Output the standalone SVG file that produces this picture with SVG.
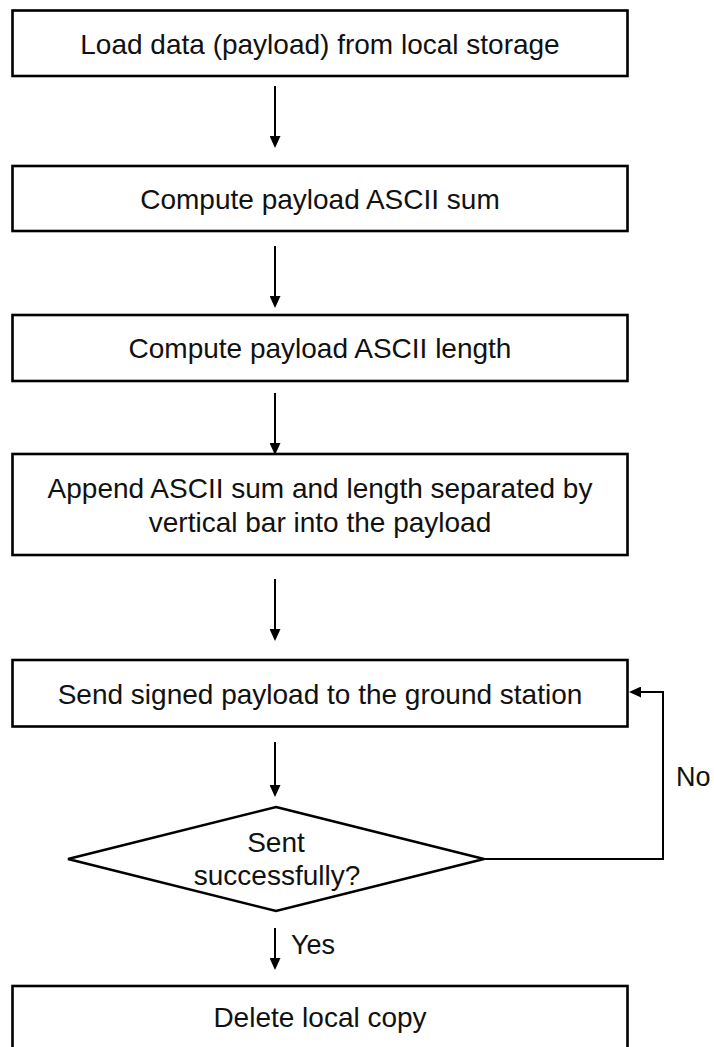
<svg xmlns="http://www.w3.org/2000/svg" width="714" height="1047" viewBox="0 0 714 1047">
  <style>
    .box { fill: #ffffff; stroke: #000000; stroke-width: 2.6; }
    .lbl { font-family: "Liberation Sans", Arial, sans-serif; font-size: 28px; fill: #111111; text-anchor: middle; }
    .side { font-family: "Liberation Sans", Arial, sans-serif; font-size: 27px; fill: #111111; }
    .wire { fill: none; stroke: #000000; stroke-width: 2; }
  </style>
  <defs>
    <marker id="arrow" markerUnits="userSpaceOnUse" markerWidth="12" markerHeight="11" refX="6" refY="5.5" orient="auto">
      <path d="M0,0 L12,5.5 L0,11 z" fill="#000000"/>
    </marker>
  </defs>
  <rect width="714" height="1047" fill="#ffffff"/>

  <g id="load">
    <rect class="box" x="12.5" y="10.5" width="615" height="65.5"/>
    <text class="lbl" x="320" y="54">Load data (payload) from local storage</text>
  </g>

  <g id="sum">
    <rect class="box" x="12.5" y="166" width="615" height="65"/>
    <text class="lbl" x="320" y="209">Compute payload ASCII sum</text>
  </g>

  <g id="length">
    <rect class="box" x="12.5" y="315" width="615" height="66"/>
    <text class="lbl" x="320" y="358">Compute payload ASCII length</text>
  </g>

  <g id="append">
    <rect class="box" x="12.5" y="454" width="615" height="101"/>
    <text class="lbl" x="320" y="497.5">Append ASCII sum and length separated by</text>
    <text class="lbl" x="320" y="531.5">vertical bar into the payload</text>
  </g>

  <g id="send">
    <rect class="box" x="12.5" y="660" width="615" height="66.5"/>
    <text class="lbl" x="320" y="703.5">Send signed payload to the ground station</text>
  </g>

  <g id="check">
    <polygon class="box" points="276,807 484,859 276,911 68,859"/>
    <text class="lbl" x="276" y="852">Sent</text>
    <text class="lbl" x="277" y="885">successfully?</text>
  </g>

  <g id="delete">
    <rect class="box" x="12.5" y="986" width="615" height="66"/>
    <text class="lbl" x="320" y="1027">Delete local copy</text>
  </g>

  <g id="connectors">
    <line class="wire" x1="275" y1="86" x2="275" y2="142" marker-end="url(#arrow)"/>
    <line class="wire" x1="275" y1="246" x2="275" y2="302" marker-end="url(#arrow)"/>
    <line class="wire" x1="275" y1="393" x2="275" y2="449" marker-end="url(#arrow)"/>
    <line class="wire" x1="275" y1="579" x2="275" y2="635" marker-end="url(#arrow)"/>
    <line class="wire" x1="275" y1="742" x2="275" y2="791" marker-end="url(#arrow)"/>
    <line class="wire" x1="275" y1="928" x2="275" y2="964" marker-end="url(#arrow)"/>
    <path class="wire" d="M484,859 H663 V692 H635" marker-end="url(#arrow)"/>
    <text class="side" x="291" y="954">Yes</text>
    <text class="side" x="676" y="786">No</text>
  </g>
</svg>
